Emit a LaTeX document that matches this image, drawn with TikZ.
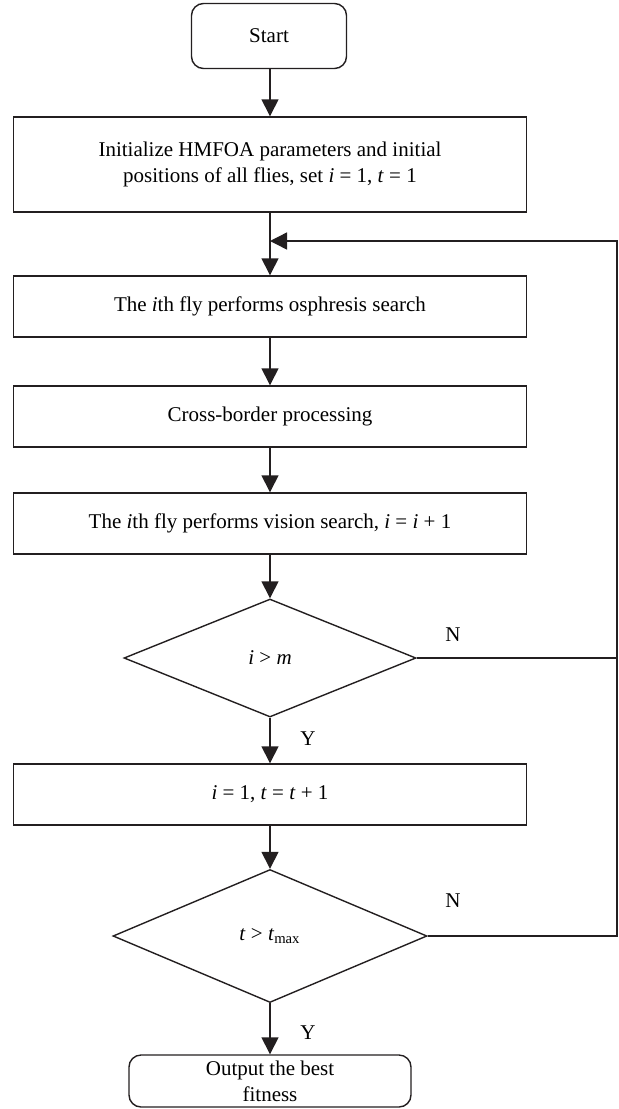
\documentclass[tikz,border=0pt]{standalone}
\usepackage{fontspec}
\setmainfont{Liberation Serif}
\usetikzlibrary{shapes.geometric, arrows.meta, positioning}
\definecolor{flowline}{RGB}{35,31,32}

\begin{document}
\begin{tikzpicture}[x=0.5pt, y=-0.5pt, line width=0.7pt,
    font=\fontsize{10.5}{13}\selectfont,
    proc/.style={draw=flowline, rectangle, minimum width=256.5pt, minimum height=30.5pt, inner sep=0pt, align=center},
    term/.style={draw=flowline, rectangle, rounded corners=6pt, inner sep=0pt, align=center},
    decide/.style={draw=flowline, diamond, inner sep=0pt},
    arr/.style={draw=flowline, -{Triangle[width=8.5pt, length=8.5pt]}}]
    \useasboundingbox (0,0) rectangle (619,1109);
    % Steps of the loop
    \node[term, minimum width=77.5pt, minimum height=32.5pt] (start) at (269,36) {Start};
    \node[proc, minimum height=47.5pt] (init) at (270,164.5)
        {Initialize HMFOA parameters and initial\\positions of all flies, set \textit{i} = 1, \textit{t} = 1};
    \node[proc] (osph) at (270,306.5) {The \textit{i}th fly performs osphresis search};
    \node[proc] (cross) at (270,416.5) {Cross-border processing};
    \node[proc] (vision) at (270,523.5) {The \textit{i}th fly performs vision search, \textit{i} = \textit{i} + 1};
    \node[decide, minimum width=146pt, minimum height=59pt] (chki) at (270,658) {\textit{i} > \textit{m}};
    \node[proc] (update) at (270,794.5) {\textit{i} = 1, \textit{t} = \textit{t} + 1};
    \node[decide, minimum width=157pt, minimum height=66.5pt] (chkt) at (270,936) {\textit{t} > \textit{t}\textsubscript{max}};
    \node[term, minimum width=141pt, minimum height=26pt] (output) at (270,1081)
        {Output the best\\fitness};

    % Flow
    \draw[arr] (start.south -| init) -- (init);
    \draw[arr] (init) -- (osph);
    \draw[arr] (osph) -- (cross);
    \draw[arr] (cross) -- (vision);
    \draw[arr] (vision) -- (chki);
    \draw[arr] (chki) -- (update);
    \draw[arr] (update) -- (chkt);
    \draw[arr] (chkt) -- (output);

    % Back to the search
    \coordinate (join) at (270,241);
    \coordinate (loopR) at (617,241);
    \draw[arr] (chkt.east) -| (loopR) -- (join);
    \draw[draw=flowline] (chki.east) -- (chki.east -| loopR);

    \node (n1) at (453,635) {N};
    \node (y1) at (308,739) {Y};
    \node (n2) at (453,901) {N};
    \node (y2) at (308,1033) {Y};
\end{tikzpicture}
\end{document}
